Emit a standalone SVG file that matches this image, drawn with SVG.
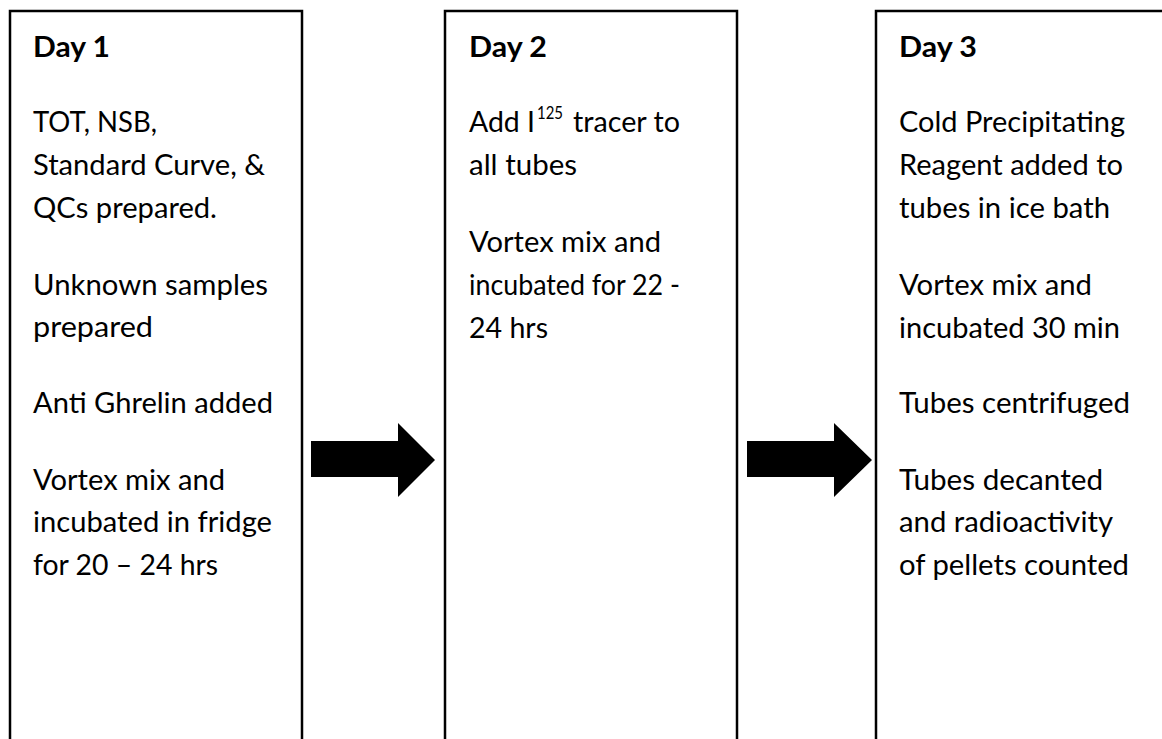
<svg xmlns="http://www.w3.org/2000/svg" width="1162" height="739" viewBox="0 0 1162 739">
  <style>
    .box { fill: #ffffff; stroke: #000000; stroke-width: 2.5; }
    .arrow { fill: #000000; }
    text { font-family: "Lato", "Noto Sans", sans-serif; font-size: 29px; fill: #000000; }
    .head { font-weight: bold; }
    .sup { font-size: 18px; }
  </style>
  <rect width="1162" height="739" fill="#ffffff"/>

  <g id="connectors">
    <polygon class="arrow" points="311,441 398,441 398,423 435,460 398,497 398,477 311,477"/>
    <polygon class="arrow" points="747,441 834,441 834,423 872,460 834,497 834,477 747,477"/>
  </g>

  <g id="day1">
    <rect class="box" x="10" y="11" width="292" height="740"/>
    <text class="head" x="33" y="57" textLength="77" lengthAdjust="spacingAndGlyphs">Day 1</text>
    <text x="33" y="132" textLength="124" lengthAdjust="spacingAndGlyphs">TOT, NSB,</text>
    <text x="33" y="175" textLength="232" lengthAdjust="spacingAndGlyphs">Standard Curve, &amp;</text>
    <text x="33" y="218" textLength="184" lengthAdjust="spacingAndGlyphs">QCs prepared.</text>
    <text x="33" y="295" textLength="235" lengthAdjust="spacingAndGlyphs">Unknown samples</text>
    <text x="33" y="337" textLength="120" lengthAdjust="spacingAndGlyphs">prepared</text>
    <text x="33" y="413" textLength="240" lengthAdjust="spacingAndGlyphs">Anti Ghrelin added</text>
    <text x="33" y="490" textLength="192" lengthAdjust="spacingAndGlyphs">Vortex mix and</text>
    <text x="33" y="532" textLength="239" lengthAdjust="spacingAndGlyphs">incubated in fridge</text>
    <text x="33" y="575" textLength="185" lengthAdjust="spacingAndGlyphs">for 20 – 24 hrs</text>
  </g>

  <g id="day2">
    <rect class="box" x="445" y="11" width="292" height="740"/>
    <text class="head" x="469" y="57" textLength="78" lengthAdjust="spacingAndGlyphs">Day 2</text>
    <text x="469" y="132" textLength="66" lengthAdjust="spacingAndGlyphs">Add I</text>
    <text class="sup" x="537" y="119" textLength="26" lengthAdjust="spacingAndGlyphs">125</text>
    <text x="573" y="132" textLength="107" lengthAdjust="spacingAndGlyphs">tracer to</text>
    <text x="469" y="175" textLength="108" lengthAdjust="spacingAndGlyphs">all tubes</text>
    <text x="469" y="252" textLength="192" lengthAdjust="spacingAndGlyphs">Vortex mix and</text>
    <text x="469" y="295" textLength="211" lengthAdjust="spacingAndGlyphs">incubated for 22 -</text>
    <text x="469" y="338" textLength="79" lengthAdjust="spacingAndGlyphs">24 hrs</text>
  </g>

  <g id="day3">
    <rect class="box" x="876" y="11" width="300" height="740"/>
    <text class="head" x="899" y="57" textLength="78" lengthAdjust="spacingAndGlyphs">Day 3</text>
    <text x="899" y="132" textLength="226" lengthAdjust="spacingAndGlyphs">Cold Precipitating</text>
    <text x="899" y="175" textLength="224" lengthAdjust="spacingAndGlyphs">Reagent added to</text>
    <text x="899" y="218" textLength="211" lengthAdjust="spacingAndGlyphs">tubes in ice bath</text>
    <text x="899" y="295" textLength="193" lengthAdjust="spacingAndGlyphs">Vortex mix and</text>
    <text x="899" y="338" textLength="221" lengthAdjust="spacingAndGlyphs">incubated 30 min</text>
    <text x="899" y="413" textLength="231" lengthAdjust="spacingAndGlyphs">Tubes centrifuged</text>
    <text x="899" y="490" textLength="204" lengthAdjust="spacingAndGlyphs">Tubes decanted</text>
    <text x="899" y="532" textLength="214" lengthAdjust="spacingAndGlyphs">and radioactivity</text>
    <text x="899" y="575" textLength="230" lengthAdjust="spacingAndGlyphs">of pellets counted</text>
  </g>
</svg>
